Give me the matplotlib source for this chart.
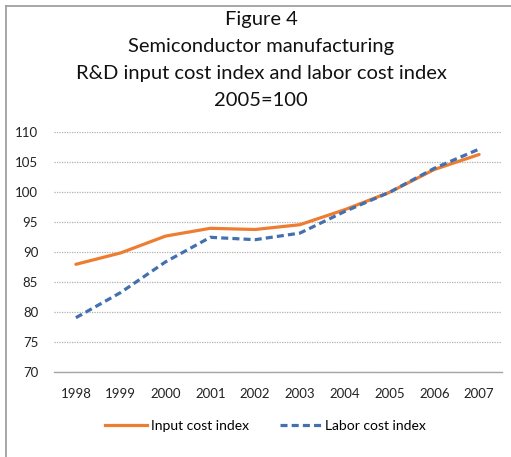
import matplotlib.pyplot as plt
from matplotlib.lines import Line2D

# Data (2005 = 100)
years = ["1998", "1999", "2000", "2001", "2002", "2003", "2004", "2005", "2006", "2007"]
input_cost = [88.0, 89.9, 92.7, 94.0, 93.8, 94.6, 97.1, 100.0, 103.8, 106.3]
labor_cost = [79.1, 83.3, 88.4, 92.5, 92.1, 93.2, 96.8, 100.0, 104.0, 107.2]
yticks = [70, 75, 80, 85, 90, 95, 100, 105, 110]

title_lines = ["Figure 4", "Semiconductor manufacturing",
               "R&D input cost index and labor cost index", "2005=100"]

plt.rcParams['font.family'] = ['Lato', 'DejaVu Sans']

fig = plt.figure(figsize=(5.11, 4.57), dpi=100)
ax = fig.add_axes([53.5 / 511, 1 - 372.3 / 457, 448 / 511, 240 / 457])

x = range(len(years))
ax.plot(x, input_cost, color="#ED7D31", lw=2.3, solid_capstyle="round", label="Input cost index")
ax.plot(x, labor_cost, color="#4270B0", lw=2.3, ls=(0, (2.2, 1.3)), label="Labor cost index")

ax.set_xlim(-0.5, len(years) - 0.5)
ax.set_ylim(70, 110)
ax.set_xticks(list(x))
ax.set_xticklabels(years)
ax.set_yticks(yticks)
ax.tick_params(length=0, labelsize=9.5, colors="#222222", pad=11)
ax.tick_params(axis="y", pad=11)
ax.grid(axis="y", color="#b0b0b0", ls=(0, (1, 1)), lw=0.9)
for s in ["top", "right", "left"]:
    ax.spines[s].set_visible(False)
ax.spines["bottom"].set_color("#a6a6a6")
ax.spines["bottom"].set_linewidth(1.0)

# title, one line at a time (centres)
for i, line in enumerate(title_lines):
    fig.text(261 / 511, 1 - (20 + 26.7 * i) / 457, line, ha="center", va="center",
             fontsize=14.5, color="#111111")

handles = [Line2D([], [], color="#ED7D31", lw=2.3),
           Line2D([], [], color="#4270B0", lw=2.3, ls=(0, (2.2, 1.3)))]
fig.legend(handles, ["Input cost index", "Labor cost index"], loc="center",
           bbox_to_anchor=(0.52, 1 - 426 / 457), ncol=2, frameon=False,
           fontsize=10, handlelength=3.0, handletextpad=0.3, columnspacing=2.2)

# chart frame (only top and left edges are visible in the crop)
fig.add_artist(Line2D([6 / 511, 6 / 511], [0, 1 - 6 / 457], transform=fig.transFigure,
                      color="#a0a0a0", lw=1.3))
fig.add_artist(Line2D([6 / 511, 1], [1 - 6 / 457, 1 - 6 / 457], transform=fig.transFigure,
                      color="#a0a0a0", lw=1.3))

fig.savefig("out.png", dpi=100)
